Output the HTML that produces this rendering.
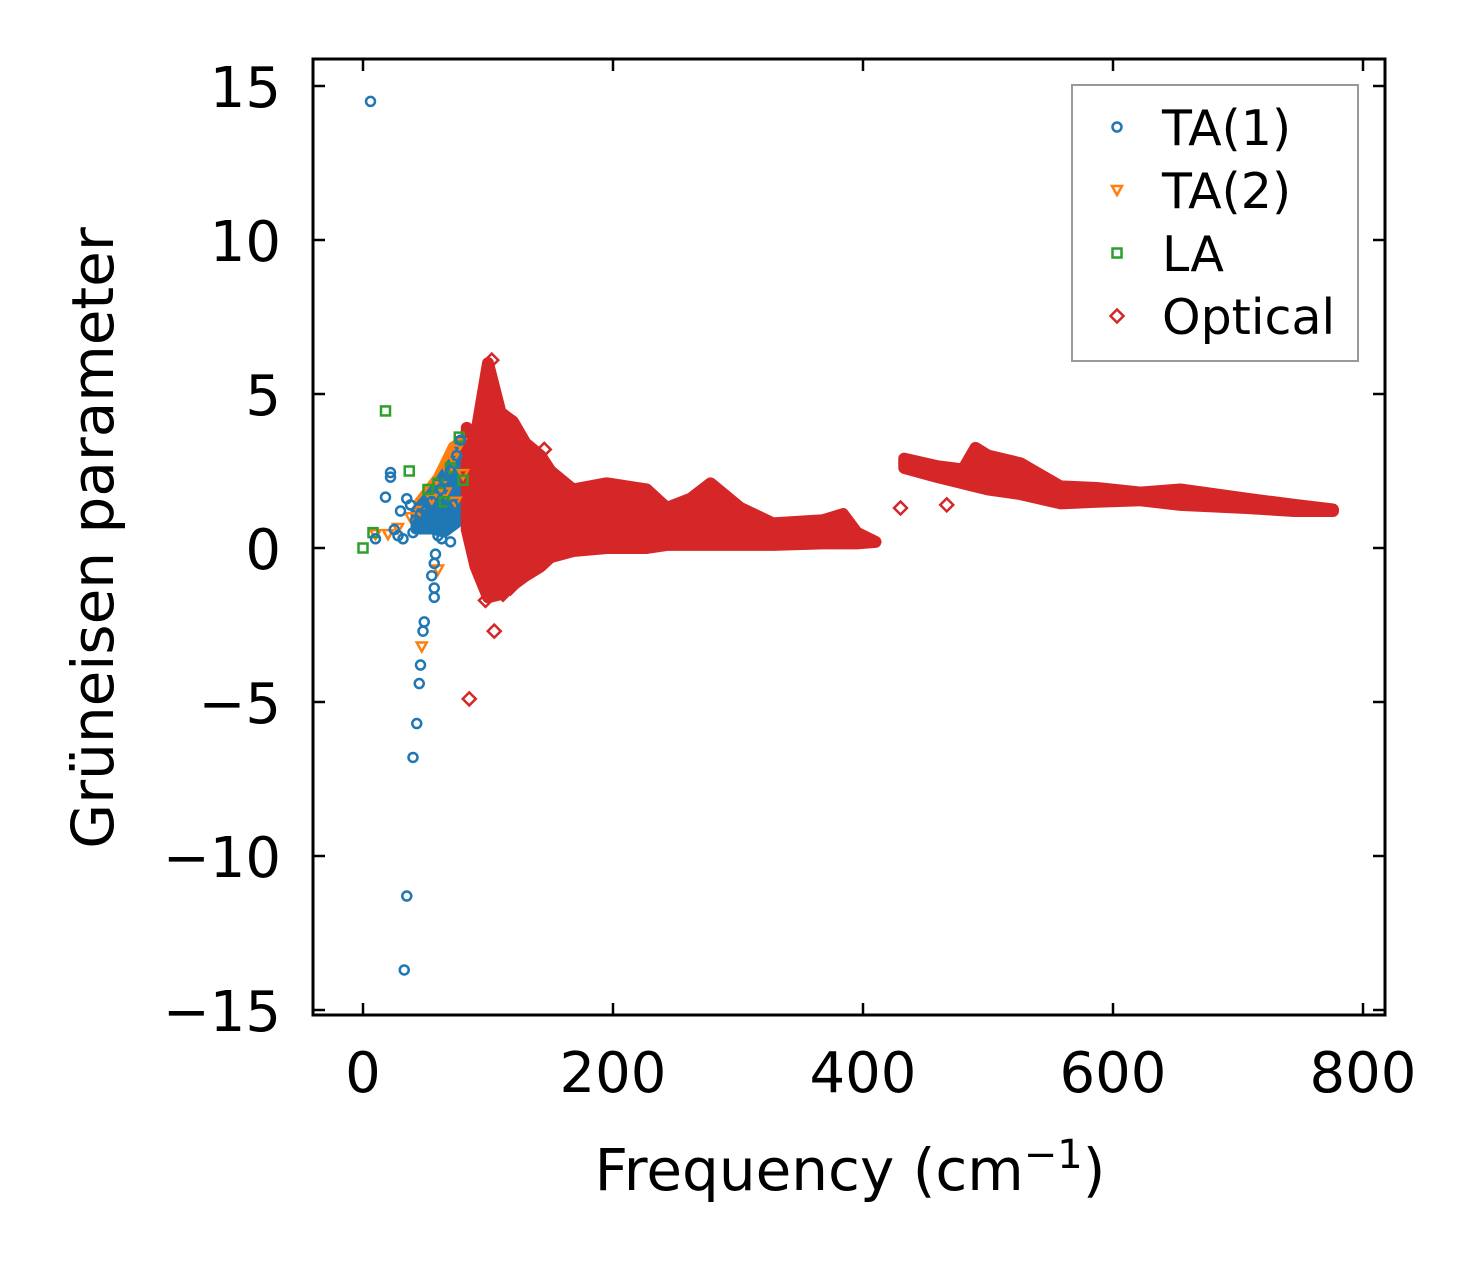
<!DOCTYPE html>
<html><head><meta charset="utf-8"><style>
html,body{margin:0;padding:0;background:#fff;}
svg{display:block;font-family:"DejaVu Sans","Liberation Sans",sans-serif;}
</style></head><body>
<svg id="chart" width="1480" height="1264" viewBox="0 0 1480 1264">
<rect width="1480" height="1264" fill="#fff"/>
<g id="bands"></g><g id="marks"></g><g id="axes"></g>
</svg>
<script>
// ---- data ----
const xTicks = [0, 200, 400, 600, 800];
const yTicks = [15, 10, 5, 0, -5, -10, -15];
const yTickLabels = ["15", "10", "5", "0", "\u22125", "\u221210", "\u221215"];
// optical dense band (segment 1): freq, upper, lower
const band1Freq  = [83, 90, 100, 110, 120, 130, 142, 150, 168, 195, 227, 243, 262, 278, 302, 328, 368, 384, 395, 410];
const band1Upper = [3.9, 3.6, 6.0, 4.4, 4.1, 3.4, 3.0, 2.5, 1.9, 2.1, 1.9, 1.3, 1.6, 2.1, 1.3, 0.8, 0.9, 1.1, 0.5, 0.2];
const band1Lower = [0.6, -0.6, -1.6, -1.5, -1.2, -0.9, -0.6, -0.3, -0.1, 0.0, 0.0, 0.1, 0.1, 0.1, 0.1, 0.1, 0.15, 0.15, 0.15, 0.2];
// optical dense band (segment 2)
const band2Freq  = [433, 460, 480, 490, 500, 526, 558, 587, 622, 654, 707, 745, 776];
const band2Upper = [2.9, 2.65, 2.55, 3.25, 3.0, 2.75, 2.0, 1.95, 1.8, 1.9, 1.6, 1.4, 1.25];
const band2Lower = [2.6, 2.3, 2.1, 2.0, 1.9, 1.75, 1.45, 1.5, 1.55, 1.4, 1.3, 1.2, 1.2];
// acoustic dense clusters
const ta2BandFreq  = [45, 60, 72, 80];
const ta2BandUpper = [1.5, 2.3, 3.3, 3.5];
const ta2BandLower = [1.0, 1.2, 1.5, 1.8];
const ta1BandFreq  = [42, 55, 65, 75, 78];
const ta1BandUpper = [1.2, 1.8, 2.4, 3.0, 3.5];
const ta1BandLower = [0.6, 0.6, 0.5, 0.8, 1.5];
// optical scattered points
const optX = [85, 105, 98, 112, 430, 467, 103, 145, 118, 132];
const optY = [-4.9, -2.7, -1.7, -1.5, 1.3, 1.4, 6.1, 3.2, -1.3, -0.8];
// TA(1)
const ta1X = [6, 33, 35, 40, 43, 45, 46, 48, 49, 57, 57, 55, 57, 58, 22, 22, 18, 30, 28, 32, 35, 40, 25, 10, 38, 42, 50, 55, 62, 65, 70, 75, 78, 60, 66, 72, 52, 46, 63, 70];
const ta1Y = [14.5, -13.7, -11.3, -6.8, -5.7, -4.4, -3.8, -2.7, -2.4, -1.6, -1.3, -0.9, -0.5, -0.2, 2.45, 2.3, 1.65, 1.2, 0.4, 0.3, 1.6, 0.5, 0.6, 0.3, 1.4, 0.9, 1.2, 1.5, 1.9, 2.2, 2.5, 3.0, 3.5, 0.4, 1.0, 1.4, 0.8, 1.1, 0.3, 0.2];
// TA(2)
const ta2X = [10, 20, 28, 47, 60, 62, 68, 72, 75, 78, 80, 55, 45, 38, 66, 74];
const ta2Y = [0.45, 0.45, 0.65, -3.2, -0.7, 2.0, 2.5, 2.9, 3.2, 3.4, 2.4, 1.6, 1.2, 1.0, 1.8, 1.5];
// LA
const laX = [0, 8, 18, 37, 52, 77, 60, 70, 80, 65];
const laY = [0, 0.5, 4.45, 2.5, 1.9, 3.6, 2.1, 2.6, 2.2, 1.5];
const legendLabels = ["TA(1)", "TA(2)", "LA", "Optical"];

// ---- axes ----
const X0 = 313, X1 = 1385, Y0 = 59, Y1 = 1015;
const xs = v => 363 + v * 1.25;
const ys = v => 548 - v * 30.8;
const NS = "http://www.w3.org/2000/svg";
function mk(tag, attrs, parent) {
  const e = document.createElementNS(NS, tag);
  for (const k in attrs) e.setAttribute(k, attrs[k]);
  parent.appendChild(e);
  return e;
}
const bands = document.getElementById('bands');
const marks = document.getElementById('marks');
const axes = document.getElementById('axes');
const RED = "#d62728", BLUE = "#1f77b4", ORANGE = "#ff7f0e", GREEN = "#2ca02c";

function drawBand(fr, up, lo, color, sw, name, parent) {
  const pts = [];
  for (let i = 0; i < fr.length; i++) pts.push(xs(fr[i]) + "," + ys(up[i]));
  for (let i = fr.length - 1; i >= 0; i--) pts.push(xs(fr[i]) + "," + ys(lo[i]));
  const p = mk('polygon', {points: pts.join(" "), fill: color, stroke: color, 'stroke-width': sw, 'stroke-linejoin': 'round'}, parent);
  
  
}
drawBand(ta2BandFreq, ta2BandUpper, ta2BandLower, ORANGE, 10, 'ta2-cluster', bands);
drawBand(ta1BandFreq, ta1BandUpper, ta1BandLower, BLUE, 10, 'ta1-cluster', bands);
drawBand(band1Freq, band1Upper, band1Lower, RED, 12, 'optical-band-low', bands);
drawBand(band2Freq, band2Upper, band2Lower, RED, 12, 'optical-band-high', bands);

function diamond(cx, cy, s, parent) {
  return mk('polygon', {points: `${cx},${cy-s} ${cx+s},${cy} ${cx},${cy+s} ${cx-s},${cy}`, fill: 'none', stroke: RED, 'stroke-width': 2.5}, parent);
}
function circle(cx, cy, parent) { return mk('circle', {cx, cy, r: 4.5, fill: 'none', stroke: BLUE, 'stroke-width': 2.5}, parent); }
function tri(cx, cy, parent) { return mk('polygon', {points: `${cx-5},${cy-4} ${cx+5},${cy-4} ${cx},${cy+5}`, fill: 'none', stroke: ORANGE, 'stroke-width': 2.5}, parent); }
function square(cx, cy, parent) { return mk('rect', {x: cx-4.5, y: cy-4.5, width: 9, height: 9, fill: 'none', stroke: GREEN, 'stroke-width': 2.5}, parent); }

for (let i = 0; i < ta2X.length; i++) {
  const e = tri(xs(ta2X[i]), ys(ta2Y[i]), marks);
  
  
}
for (let i = 0; i < laX.length; i++) {
  const e = square(xs(laX[i]), ys(laY[i]), marks);
  
  
}
for (let i = 0; i < ta1X.length; i++) {
  const e = circle(xs(ta1X[i]), ys(ta1Y[i]), marks);
  
  
}
for (let i = 0; i < optX.length; i++) {
  const e = diamond(xs(optX[i]), ys(optY[i]), 6.5, marks);
  
  
}

// frame
const fr = mk('rect', {x: X0, y: Y0, width: X1 - X0, height: Y1 - Y0, fill: 'none', stroke: '#000', 'stroke-width': 3}, axes);


xTicks.forEach(v => {
  const x = xs(v);
  mk('line', {x1: x, y1: Y1, x2: x, y2: Y1 - 12, stroke: '#000', 'stroke-width': 2.5}, axes);
  mk('line', {x1: x, y1: Y0, x2: x, y2: Y0 + 12, stroke: '#000', 'stroke-width': 2.5}, axes);
  const t = mk('text', {x: x, y: 1092, 'font-size': 56, 'text-anchor': 'middle', fill: '#000'}, axes);
  t.textContent = String(v);
  
  
});
yTicks.forEach((v, i) => {
  const y = ys(v);
  mk('line', {x1: X0, y1: y, x2: X0 + 12, y2: y, stroke: '#000', 'stroke-width': 2.5}, axes);
  mk('line', {x1: X1, y1: y, x2: X1 - 12, y2: y, stroke: '#000', 'stroke-width': 2.5}, axes);
  const t = mk('text', {x: 281, y: y + 21, 'font-size': 56, 'text-anchor': 'end', fill: '#000'}, axes);
  t.textContent = yTickLabels[i];
  
  
});
const xl = mk('text', {x: 850, y: 1190, 'font-size': 58, 'text-anchor': 'middle', fill: '#000'}, axes);
xl.innerHTML = 'Frequency (cm<tspan dy="-22" font-size="40">\u22121</tspan><tspan dy="22">)</tspan>';


const yl = mk('text', {x: 0, y: 0, 'font-size': 58, 'text-anchor': 'middle', fill: '#000', transform: 'translate(113,538) rotate(-90)'}, axes);
yl.textContent = 'Grüneisen parameter';



// legend
const lg = mk('g', {}, axes);


mk('rect', {x: 1072, y: 85, width: 286, height: 276, fill: '#fff', stroke: '#999', 'stroke-width': 2}, lg);
const makers = [circle, (x,y,p)=>tri(x,y,p), square, (x,y,p)=>diamond(x,y,6.5,p)];
legendLabels.forEach((lab, i) => {
  const y = 127 + i * 63;
  const m = makers[i](1117, y, lg);
  
  
  const t = mk('text', {x: 1162, y: y + 18, 'font-size': 49, fill: '#000'}, lg);
  t.textContent = lab;
  
  
});
</script>
</body></html>
